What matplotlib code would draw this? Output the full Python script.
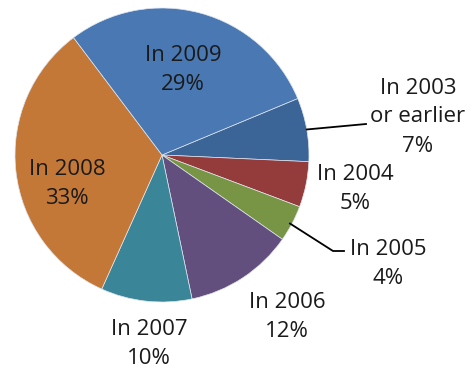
import numpy as np
import matplotlib.pyplot as plt

plt.rcParams['font.family'] = ['Open Sans', 'DejaVu Sans']

# 数据
labels = ['In 2003\nor earlier', 'In 2004', 'In 2005', 'In 2006', 'In 2007', 'In 2008', 'In 2009']
values = [7, 5, 4, 12, 10, 33, 29]
colors = ['#3c6597', '#943c3b', '#789445', '#634f7e', '#3a8698', '#c47838', '#4978b2']

# 文字位置 (像素坐标)
label_pos = [(418, 252), (355, 180), (388, 105), (287, 52), (149, 25), (67, 185), (183, 299)]

fig = plt.figure(figsize=(4.75, 3.69), dpi=100)
ax = fig.add_axes([0, 0, 1, 1])

cx, cy, r = 162, 214, 147
wedges, _ = ax.pie(values, colors=colors, startangle=22.6, counterclock=False,
                   center=(cx, cy), radius=r, frame=True,
                   wedgeprops=dict(edgecolor='#dfe6ef', linewidth=0.5))
ax.set_xlim(0, 475)
ax.set_ylim(0, 369)
ax.axis('off')

for lab, v, (x, y) in zip(labels, values, label_pos):
    ax.text(x, y, f'{lab}\n{v}%', ha='center', va='center', fontsize=16,
            color='#1a1a1a', linespacing=1.5)

# 引导线
def edge_point(w):
    ang = np.deg2rad((w.theta1 + w.theta2) / 2)
    return cx + r * np.cos(ang), cy + r * np.sin(ang)

x0, y0 = edge_point(wedges[0])
ax.plot([x0, 366], [y0, 245], color='black', lw=1.3)
x0, y0 = edge_point(wedges[2])
ax.plot([x0 - 2, 333, 344], [y0, 118, 118], color='black', lw=1.3)

fig.savefig('out.png', dpi=100)
